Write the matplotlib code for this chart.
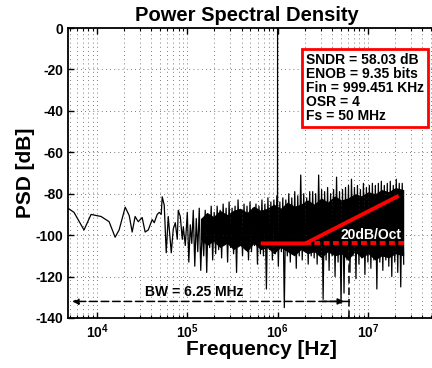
import numpy as np
import matplotlib
matplotlib.use('Agg')
from matplotlib import pyplot as plt

plt.rcParams['font.family'] = ['Liberation Sans', 'DejaVu Sans']
plt.rcParams['mathtext.fontset'] = 'custom'
plt.rcParams['mathtext.rm'] = 'Liberation Sans:bold'
plt.rcParams['mathtext.it'] = 'Liberation Sans:bold'
plt.rcParams['mathtext.bf'] = 'Liberation Sans:bold'
plt.rcParams['axes.unicode_minus'] = False

# low frequency part of the spectrum (sparse bins)
lf_freq = [4.76e3, 5.55e3, 7.17e3, 8.58e3, 1.108e4, 1.36e4, 1.585e4, 1.755e4,
           2.05e4, 2.27e4, 2.45e4, 2.64e4, 2.86e4, 3.16e4, 3.41e4, 3.69e4,
           4.08e4, 4.30e4, 4.64e4, 4.89e4, 5.14e4, 5.27e4, 5.55e4, 5.84e4,
           6.15e4, 6.64e4, 6.99e4, 7.36e4, 7.74e4, 7.94e4, 8.36e4, 8.80e4,
           9.03e4, 9.50e4]
lf_psd = [-87, -89, -97.5, -90, -91, -93.5, -101, -97.5,
          -86.5, -90.5, -98.5, -91, -93.5, -91.5, -98.5, -97.5,
          -92.5, -94, -90, -89, -90, -81.5, -85.5, -108.5,
          -91, -108.5, -97, -94, -102, -88, -91, -102,
          -96, -105]

# dense part 100 kHz .. 25 MHz: peaks and dips of the noise, left to right
hf_top = [-89, -95, -88, -92, -87, -96, -88, -90, -86, -89,
          -86, -88, -85, -87, -84, -87, -86, -83, -88, -85, -86, -84, -87, -85, -86,
          -83, -85, -82, -84, -83, -81, -84, -82, -83, -80, -82, -79, -81, -71, -80, -82, -79,
          -79, -80, -71, -78, -79, -77, -80, -78, -72, -79, -78,
          -77, -76, -73, -77, -76, -78, -75, -77, -76, -75,
          -76, -75, -74, -76, -75, -74, -76, -73, -75, -75]
hf_bot = [-113, -104, -115, -108, -117, -110, -118, -106, -112, -109,
          -107, -111, -104, -113, -106, -109, -118, -105, -110, -107, -112, -108, -105, -114, -109,
          -110, -126, -107, -112, -109, -115, -108, -135, -110, -113, -109, -116, -110, -112, -108, -114, -110,
          -111, -114, -109, -131, -112, -117, -110, -120, -113, -133, -128,
          -112, -118, -110, -121, -114, -111, -119, -113, -116, -112,
          -126, -113, -117, -112, -115, -120, -113, -118, -125, -114]

# solid core of the noise floor
core_freq = [1.4e5, 1.65e5, 1.95e5, 2.3e5, 2.75e5, 3.25e5, 3.85e5, 4.6e5,
             5.45e5, 6.5e5, 7.7e5, 9.1e5, 1.08e6, 1.29e6, 1.53e6, 1.82e6,
             2.15e6, 2.55e6, 3.05e6, 3.6e6, 4.3e6, 5.1e6, 6.05e6, 7.2e6,
             8.5e6, 1.01e7, 1.2e7, 1.43e7, 1.7e7, 2.02e7, 2.5e7]
core_top = [-92, -89, -91, -88, -90, -88, -87, -89, -86, -88, -87, -85, -87,
            -84, -86, -85, -83, -85, -82, -84, -81, -83, -82, -80, -81, -79,
            -80, -78, -79, -77, -78]
core_bot = [-102, -105, -103, -106, -104, -107, -105, -108, -104, -107, -106,
            -109, -106, -108, -110, -107, -109, -108, -111, -108, -110, -109,
            -112, -108, -111, -109, -112, -110, -111, -109, -110]

# input tone
tone_freq = [996.4e3, 999.451e3, 1002.5e3]
tone_psd = [-95, 0, -96]

# noise shaping guide
shape_freq = [6.5e5, 2.04e6, 2.2e7]
shape_psd = [-104, -104, -81]
floor_freq = [2.04e6, 2.5e7]
floor_psd = [-104, -104]

bw = 6.25e6
bw_left = 5.3e3
bw_level = -132

info = 'SNDR = 58.03 dB\nENOB = 9.35 bits\nFin = 999.451 KHz\nOSR = 4\nFs = 50 MHz'

hf_freq = np.geomspace(1.0e5, 2.5e7, 2 * len(hf_top))
hf_psd = np.column_stack([hf_top, hf_bot]).ravel()
freq = np.concatenate([lf_freq, hf_freq])
psd = np.concatenate([lf_psd, hf_psd])

fig = plt.figure(figsize=(4.32, 3.68), dpi=100)
ax = fig.add_axes([68 / 432, 1 - 318 / 368, 372 / 432, 290 / 368])

ax.fill_between(core_freq, core_bot, core_top, color='k', lw=0)
ax.plot(freq, psd, color='k', lw=0.9)
ax.plot(tone_freq, tone_psd, color='k', lw=0.8)

ax.plot(shape_freq, shape_psd, color='red', lw=2.8, solid_capstyle='butt')
ax.plot(floor_freq, floor_psd, color='red', lw=2.8, ls=(0, (1.5, 0.9)))
ax.text(5.0e6, -99.8, '20dB/Oct', color='white', fontsize=10,
        fontweight='bold', va='center', ha='left', zorder=5)

ax.annotate('', xy=(bw_left, bw_level), xytext=(bw, bw_level),
            arrowprops=dict(arrowstyle='-|>', ls=(0, (5, 2.5)), lw=1.1,
                            color='k', mutation_scale=9, shrinkA=0, shrinkB=0))
ax.annotate('', xy=(bw * 0.87, bw_level), xytext=(bw * 0.5, bw_level),
            arrowprops=dict(arrowstyle='-|>', lw=1.1, color='k',
                            mutation_scale=9, shrinkA=0, shrinkB=0))
ax.plot([bw, bw], [-140, -104], color='k', lw=1.1, ls=(0, (5, 2.5)))
ax.text(3.4e4, -127.5, 'BW = 6.25 MHz', fontsize=10, fontweight='bold',
        va='center', ha='left')

fig.text(306 / 432, 1 - 53 / 368, info, fontsize=10, fontweight='bold',
         va='top', ha='left', linespacing=1.0,
         bbox=dict(boxstyle='square,pad=0.3', fc='white', ec='red', lw=2))

ax.set_xscale('log')
ax.set_xlim(10 ** 3.678, 10 ** 7.8)
ax.set_ylim(-140, 0)
ax.set_yticks(range(-140, 1, 20))
ax.set_xticks([1e4, 1e5, 1e6, 1e7],
              labels=[r'$10^{4}$', r'$10^{5}$', r'$10^{6}$', r'$10^{7}$'])
for lab in ax.get_yticklabels():
    lab.set_fontweight('bold')
ax.tick_params(labelsize=10, direction='in', which='both', top=True, right=True)
ax.tick_params(which='major', length=4, width=1)
ax.tick_params(which='minor', length=2, width=0.8)
ax.grid(True, which='major', color='0.3', lw=0.6, ls=(0, (1, 4)))
ax.grid(True, which='minor', axis='x', color='0.3', lw=0.6, ls=(0, (1, 4)))
for sp in ax.spines.values():
    sp.set_linewidth(1.3)

ax.set_title('Power Spectral Density', fontsize=14.5, fontweight='bold',
             x=(247 - 68) / 372, pad=5)
ax.set_xlabel('Frequency [Hz]', fontsize=15, fontweight='bold')
ax.xaxis.set_label_coords((261 - 68) / 372, -0.075)
ax.set_ylabel('PSD [dB]', fontsize=15, fontweight='bold')
ax.yaxis.set_label_coords(-0.089, 0.5)

fig.savefig('out.png', dpi=100)
